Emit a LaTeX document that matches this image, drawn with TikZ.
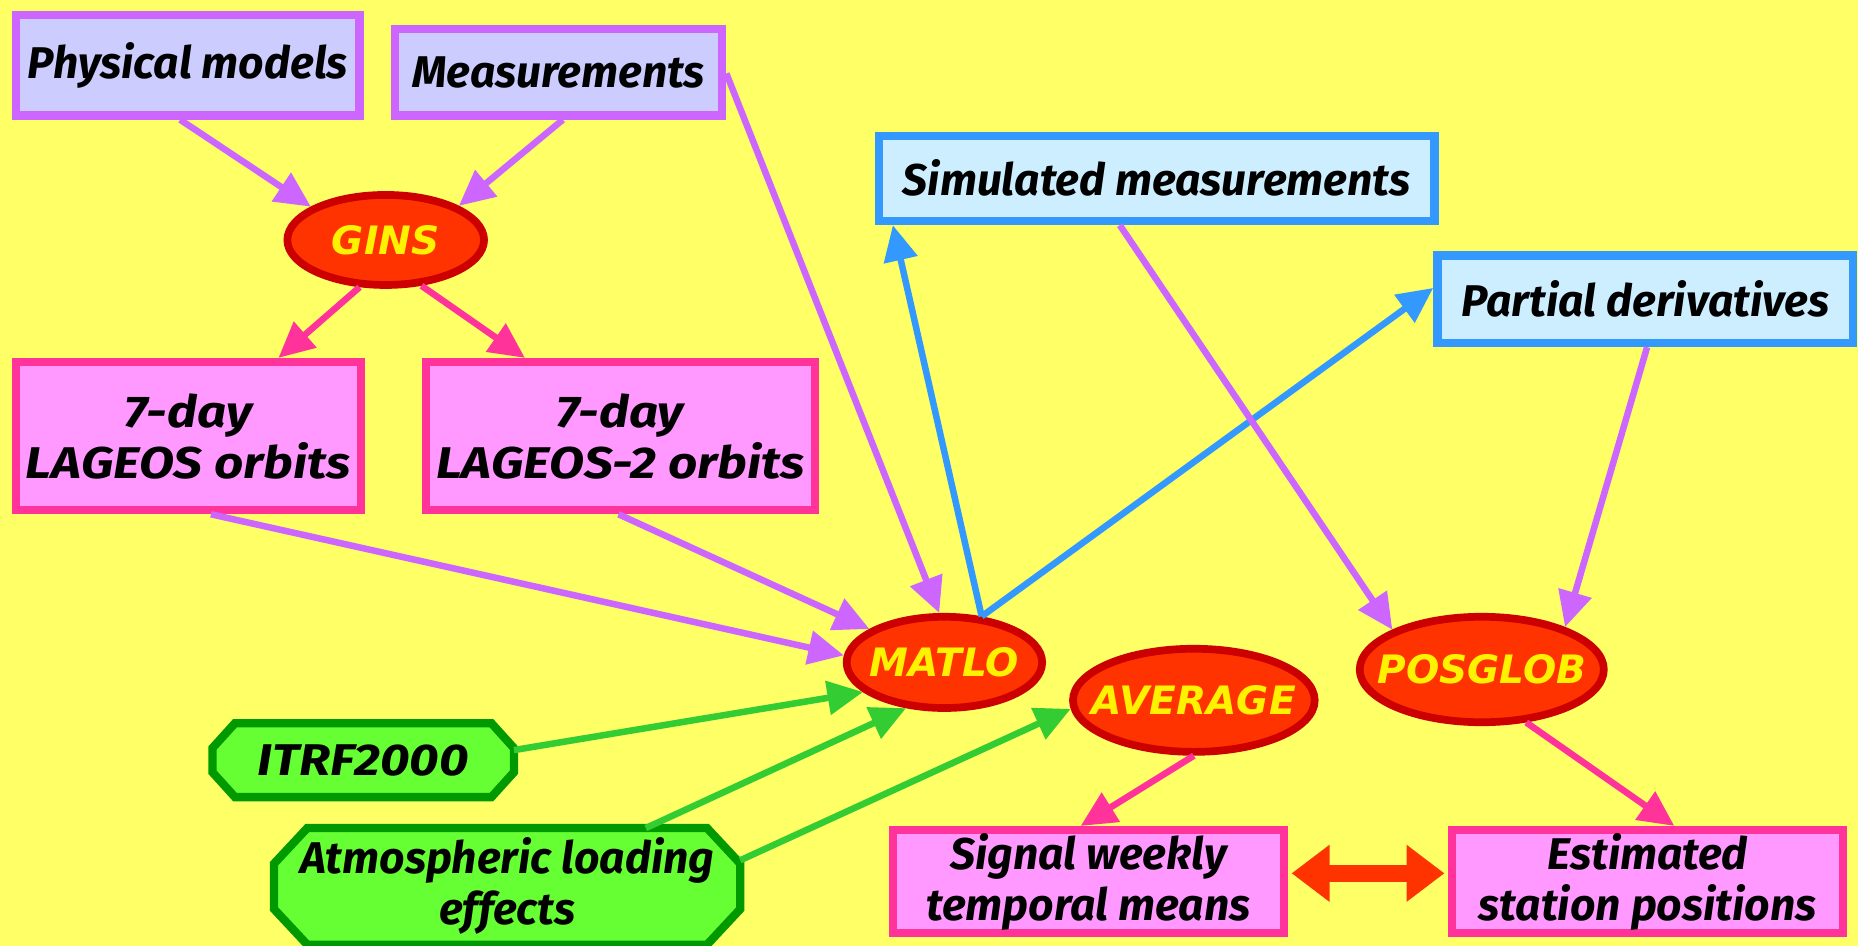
\documentclass[tikz,border=0pt]{standalone}
\usepackage{fontspec}
\setmainfont{Fira Sans}
\newfontfamily\widefont[FakeStretch=1.15]{Fira Sans}
\newfontfamily\progfont{DejaVu Sans}
\usetikzlibrary{arrows.meta,calc,shapes.geometric}
\pgfdeclarelayer{bg}
\pgfdeclarelayer{background}
\pgfsetlayers{bg,background,main}
\definecolor{bgyellow}{HTML}{FFFF66}
\definecolor{purp}{HTML}{CC66FF}
\definecolor{lav}{HTML}{CCCCFF}
\definecolor{pinkb}{HTML}{FF3399}
\definecolor{pinkf}{HTML}{FF99FF}
\definecolor{blueb}{HTML}{3399FF}
\definecolor{bluef}{HTML}{CCEEFF}
\definecolor{ellf}{HTML}{FF3300}
\definecolor{elld}{HTML}{CC0000}
\definecolor{greenf}{HTML}{66FF33}
\definecolor{greend}{HTML}{009900}
\definecolor{greena}{HTML}{33CC33}
\newcommand{\progtext}[1]{\makebox[0pt]{#1}}
\tikzset{
  txt/.style={font=\fontsize{37.5}{43}\selectfont\bfseries\itshape, align=center, inner sep=0pt},
  widetxt/.style={font=\widefont\fontsize{37.5}{43}\selectfont\bfseries\itshape},
  purplebox/.style={txt, rectangle, draw=purp, fill=lav, line width=7pt},
  pinkbox/.style={txt, rectangle, draw=pinkb, fill=pinkf, line width=7pt},
  bluebox/.style={txt, rectangle, draw=blueb, fill=bluef, line width=7pt},
  prog/.style={txt, font=\progfont\fontsize{33}{40}\selectfont\bfseries\itshape, ellipse, draw=elld, fill=ellf, line width=6.5pt, text=yellow},
  greenbox/.style={txt, widetxt, rectangle},
  conn/.style={line width=5.5pt, -{Triangle[length=30pt,width=28pt]}},
  purpa/.style={conn, draw=purp, fill=purp},
  pinka/.style={conn, draw=pinkb, fill=pinkb},
  bluea/.style={conn, draw=blueb, fill=blueb},
  greena/.style={conn, draw=greena, fill=greena},
}
\begin{document}
\begin{tikzpicture}[x=1pt,y=-1pt]
\useasboundingbox (0,0) rectangle (1568,798);
\begin{pgfonlayer}{bg}
\fill[bgyellow] (0,0) rectangle (1568,798);
\end{pgfonlayer}

% boxes
\node[purplebox, minimum width=290pt, minimum height=85pt] (phys) at (158.5,55) {Physical models};
\node[purplebox, minimum width=276pt, minimum height=73pt] (meas) at (471.5,61) {Measurements};
\node[pinkbox, widetxt, minimum width=291pt, minimum height=125pt] (lag1) at (159,368) {7-day\\LAGEOS orbits};
\node[pinkbox, widetxt, minimum width=328pt, minimum height=125pt] (lag2) at (523.5,368) {7-day\\LAGEOS-2 orbits};
\node[bluebox, minimum width=469pt, minimum height=72pt] (sim) at (976,150.5) {Simulated measurements};
\node[bluebox, minimum width=351pt, minimum height=74pt] (part) at (1388.5,252.5) {Partial derivatives};
\node[pinkbox, minimum width=330pt, minimum height=87pt] (sig) at (918.5,744) {Signal weekly\\temporal means};
\node[pinkbox, minimum width=330pt, minimum height=87pt] (est) at (1390.5,744) {Estimated\\station positions};

% programs
\node[prog, minimum width=166pt, minimum height=76pt] (gins) at (325.5,202.5) {\progtext{GINS}};
\node[prog, minimum width=165pt, minimum height=77pt] (matlo) at (797,559) {\progtext{MATLO}};
\node[prog, minimum width=204pt, minimum height=87pt] (avg) at (1007.5,591) {\progtext{AVERAGE}};
\node[prog, minimum width=206pt, minimum height=89pt] (pos) at (1250.5,565) {\progtext{POSGLOB}};

% green chamfered boxes
\node[greenbox, minimum width=254pt, minimum height=62pt] (itrf) at (306.5,641.5) {ITRF2000};
\node[txt, rectangle, minimum width=393pt, minimum height=98pt] (atm) at (428,748) {Atmospheric loading\\effects};
\begin{pgfonlayer}{background}
\foreach \n/\dx/\dy in {itrf/19/21, atm/28/30}{
  \draw[draw=greend, fill=greenf, line width=7pt, line join=miter]
    ($(\n.north west)+(\dx,0)$) -- ($(\n.north east)+(-\dx,0)$) --
    ($(\n.north east)+(0,\dy)$) -- ($(\n.south east)+(0,-\dy)$) --
    ($(\n.south east)+(-\dx,0)$) -- ($(\n.south west)+(\dx,0)$) --
    ($(\n.south west)+(0,-\dy)$) -- ($(\n.north west)+(0,\dy)$) -- cycle;
}
\end{pgfonlayer}

% connectors
\draw[purpa] ($(phys.south)+(-6.5,0)$) -- (gins.156);
\draw[purpa] ($(meas.south)+(3.5,0)$) -- (gins.25);
\draw[purpa] ($(meas.east)+(0,1)$) -- (matlo.96);
\draw[pinka] (gins.241) -- ($(lag1.north)+(76,0)$);
\draw[pinka] (gins.308) -- ($(lag2.north)+(-80.5,0)$);
\draw[purpa] ($(lag1.south)+(19,0)$) -- (matlo.176);
\draw[purpa] ($(lag2.south)+(-1.5,0)$) -- (matlo.156);
\draw[bluea] (matlo.51) -- ($(sim.south west)+(15.5,0)$);
\draw[bluea] (matlo.51) -- ($(part.west)+(0,-9.5)$);
\draw[purpa] ($(sim.south)+(-31,0)$) -- (pos.156);
\draw[purpa] ($(part.south)+(1.5,0)$) -- (pos.27);
\draw[greena] ($(itrf.east)+(0,-8.5)$) -- (matlo.200);
\draw[greena] ($(atm.north)+(117,0)$) -- (matlo.230);
\draw[greena] ($(atm.east)+(0,-22)$) -- (avg.184);
\draw[pinka] (avg.south) -- ($(sig.north)+(-6.5,0)$);
\draw[pinka] (pos.310) -- ($(est.north)+(22.5,0)$);
\draw[draw=ellf, fill=ellf, line width=14pt, {Triangle[length=32pt,width=46pt]}-{Triangle[length=32pt,width=46pt]}]
  ($(sig.east)+(3,-7)$) -- ($(est.west)+(-3,-7)$);
\end{tikzpicture}
\end{document}
